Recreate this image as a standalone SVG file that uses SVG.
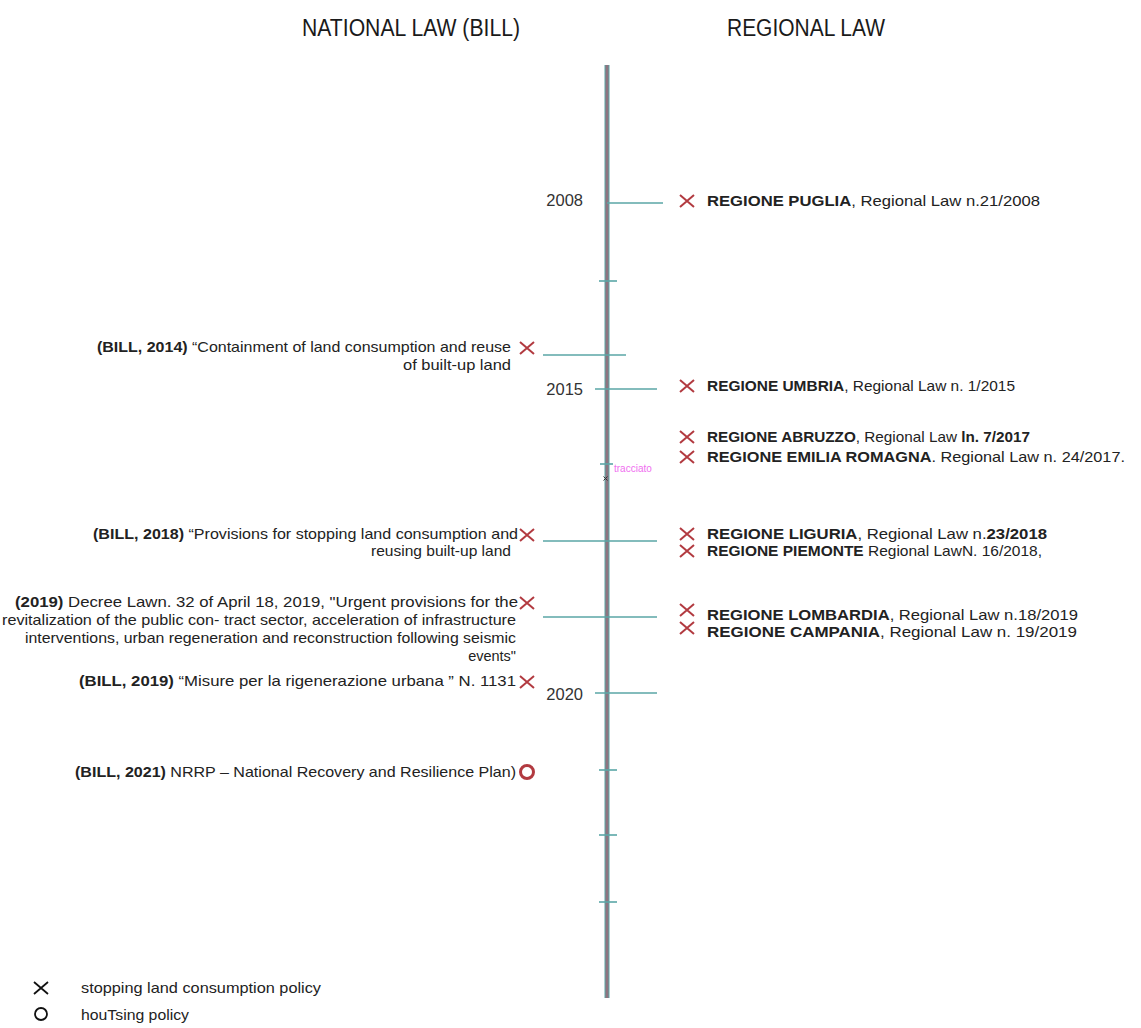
<svg xmlns="http://www.w3.org/2000/svg" width="1141" height="1028" viewBox="0 0 1141 1028">
<style>
text{font-family:"Liberation Sans",Arial,sans-serif;fill:#222}
.hd{font-size:23px;fill:#1a1a1a}
.t{font-size:14.5px}
.yr{font-size:16.5px;fill:#333}
.b{font-weight:bold}
.tick{stroke:#5aa6a6;stroke-width:1.6;fill:none}
.xm{stroke:#b23a40;stroke-width:2;fill:none}
.xk{stroke:#111;stroke-width:1.8;fill:none}
</style>
<defs>
<g id="xmark"><path d="M-7,-6 L7,6 M7,-6 L-7,6"/></g>
</defs>
<rect width="1141" height="1028" fill="#fff"/>

<g id="headers">
<text class="hd" x="302" y="36" textLength="218" lengthAdjust="spacingAndGlyphs">NATIONAL LAW (BILL)</text>
<text class="hd" x="727" y="36" textLength="158" lengthAdjust="spacingAndGlyphs">REGIONAL LAW</text>
</g>

<g id="connectors">
<line x1="607" y1="65" x2="607" y2="998" stroke="#5aa6a6" stroke-width="5"/>
<line x1="607" y1="65" x2="607" y2="998" stroke="#8e7480" stroke-width="3"/>
<line class="tick" x1="607" y1="203" x2="663" y2="203"/>
<line class="tick" x1="599" y1="281" x2="617" y2="281"/>
<line class="tick" x1="543" y1="355" x2="626" y2="355"/>
<line class="tick" x1="595" y1="389" x2="657" y2="389"/>
<line class="tick" x1="600" y1="464" x2="613" y2="464"/>
<line class="tick" x1="543" y1="541" x2="657" y2="541"/>
<line class="tick" x1="543" y1="617" x2="657" y2="617"/>
<line class="tick" x1="595" y1="693" x2="657" y2="693"/>
<line class="tick" x1="599" y1="770" x2="617" y2="770"/>
<line class="tick" x1="599" y1="835" x2="617" y2="835"/>
<line class="tick" x1="599" y1="902" x2="617" y2="902"/>
</g>

<g id="years">
<text class="yr" x="583" y="206" text-anchor="end">2008</text>
<text class="yr" x="583" y="395" text-anchor="end">2015</text>
<text class="yr" x="583" y="700" text-anchor="end">2020</text>
<text x="614" y="472" style="font-size:10px;fill:#f070f0">tracciato</text>
<path d="M603.5,476.5 L607.5,480.5 M607.5,476.5 L603.5,480.5" stroke="#333" stroke-width="1"/>
</g>

<g id="node-puglia">
<use href="#xmark" class="xm" x="687" y="201"/>
<text class="t" x="707" y="206" textLength="333" lengthAdjust="spacingAndGlyphs"><tspan class="b">REGIONE PUGLIA</tspan>, Regional Law n.21/2008</text>
</g>
<g id="node-umbria">
<use href="#xmark" class="xm" x="687" y="386"/>
<text class="t" x="707" y="391" textLength="308" lengthAdjust="spacingAndGlyphs"><tspan class="b">REGIONE UMBRIA</tspan>, Regional Law n. 1/2015</text>
</g>
<g id="node-abruzzo">
<use href="#xmark" class="xm" x="687" y="437"/>
<text class="t" x="707" y="442" textLength="323" lengthAdjust="spacingAndGlyphs"><tspan class="b">REGIONE ABRUZZO</tspan>, Regional Law <tspan class="b">ln. 7/2017</tspan></text>
</g>
<g id="node-emilia">
<use href="#xmark" class="xm" x="687" y="457"/>
<text class="t" x="707" y="462" textLength="418" lengthAdjust="spacingAndGlyphs"><tspan class="b">REGIONE EMILIA ROMAGNA</tspan>. Regional Law n. 24/2017.</text>
</g>
<g id="node-liguria">
<use href="#xmark" class="xm" x="687" y="534"/>
<text class="t" x="707" y="539" textLength="340" lengthAdjust="spacingAndGlyphs"><tspan class="b">REGIONE LIGURIA</tspan>, Regional Law n.<tspan class="b">23/2018</tspan></text>
</g>
<g id="node-piemonte">
<use href="#xmark" class="xm" x="687" y="551"/>
<text class="t" x="707" y="556" textLength="335" lengthAdjust="spacingAndGlyphs"><tspan class="b">REGIONE PIEMONTE</tspan> Regional LawN. 16/2018,</text>
</g>
<g id="node-lombardia">
<use href="#xmark" class="xm" x="687" y="610"/>
<text class="t" x="707" y="620" textLength="371" lengthAdjust="spacingAndGlyphs"><tspan class="b">REGIONE LOMBARDIA</tspan>, Regional Law n.18/2019</text>
</g>
<g id="node-campania">
<use href="#xmark" class="xm" x="687" y="628"/>
<text class="t" x="707" y="637" textLength="370" lengthAdjust="spacingAndGlyphs"><tspan class="b">REGIONE CAMPANIA</tspan>, Regional Law n. 19/2019</text>
</g>

<g id="node-bill2014">
<use href="#xmark" class="xm" x="527" y="348"/>
<text class="t" x="511" y="352" text-anchor="end" textLength="414" lengthAdjust="spacingAndGlyphs"><tspan class="b">(BILL, 2014)</tspan> “Containment of land consumption and reuse</text>
<text class="t" x="511" y="370" text-anchor="end" textLength="108" lengthAdjust="spacingAndGlyphs">of built-up land</text>
</g>
<g id="node-bill2018">
<use href="#xmark" class="xm" x="527" y="535"/>
<text class="t" x="518" y="539" text-anchor="end" textLength="425" lengthAdjust="spacingAndGlyphs"><tspan class="b">(BILL, 2018)</tspan> “Provisions for stopping land consumption and</text>
<text class="t" x="511" y="556" text-anchor="end" textLength="140" lengthAdjust="spacingAndGlyphs">reusing built-up land</text>
</g>
<g id="node-decree2019">
<use href="#xmark" class="xm" x="527" y="603"/>
<text class="t" x="518" y="607" text-anchor="end" textLength="503" lengthAdjust="spacingAndGlyphs"><tspan class="b">(2019)</tspan> Decree Lawn. 32 of April 18, 2019,  "Urgent provisions for the</text>
<text class="t" x="516" y="625" text-anchor="end" textLength="514" lengthAdjust="spacingAndGlyphs">revitalization of the public con- tract sector, acceleration of infrastructure</text>
<text class="t" x="516" y="643" text-anchor="end" textLength="491" lengthAdjust="spacingAndGlyphs">interventions, urban regeneration and reconstruction following seismic</text>
<text class="t" x="516" y="661" text-anchor="end">events"</text>
</g>
<g id="node-bill2019">
<use href="#xmark" class="xm" x="527" y="682"/>
<text class="t" x="516" y="686" text-anchor="end" textLength="437" lengthAdjust="spacingAndGlyphs"><tspan class="b">(BILL, 2019)</tspan> “Misure per la rigenerazione urbana ” N. 1131</text>
</g>
<g id="node-bill2021">
<circle cx="527" cy="772" r="6.5" fill="none" stroke="#b23a40" stroke-width="3"/>
<text class="t" x="516" y="777" text-anchor="end" textLength="441" lengthAdjust="spacingAndGlyphs"><tspan class="b">(BILL, 2021)</tspan> NRRP – National Recovery and Resilience Plan)</text>
</g>

<g id="legend">
<use href="#xmark" class="xk" x="41" y="988"/>
<text class="t" x="81" y="993" textLength="240" lengthAdjust="spacingAndGlyphs">stopping land consumption policy</text>
<circle cx="41" cy="1014" r="6" fill="none" stroke="#111" stroke-width="1.8"/>
<text class="t" x="81" y="1020" textLength="108" lengthAdjust="spacingAndGlyphs">houTsing policy</text>
</g>
</svg>
